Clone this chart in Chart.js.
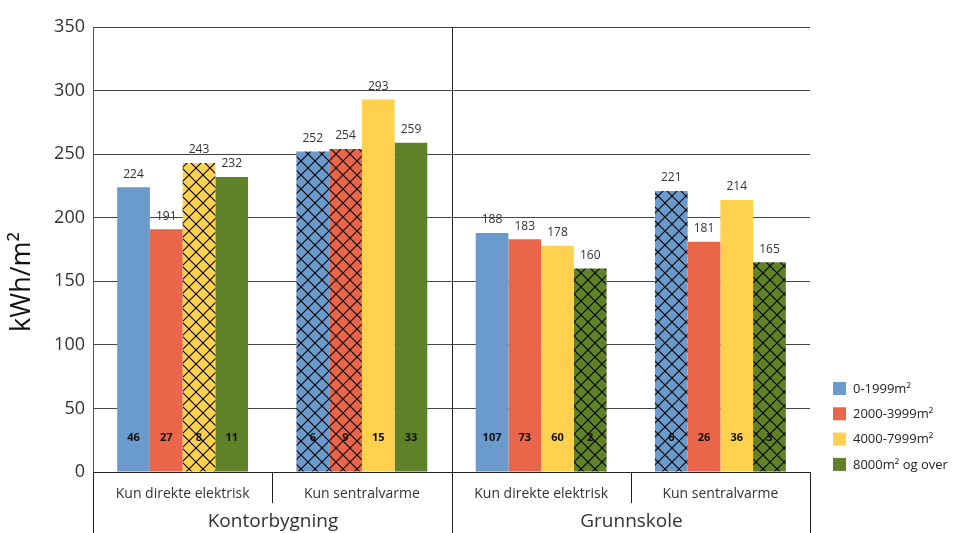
<!DOCTYPE html>
<html>
<head>
<meta charset="utf-8">
<script src="https://cdn.jsdelivr.net/npm/chart.js@4.4.1/dist/chart.umd.min.js"></script>
<style>
  html, body { margin: 0; padding: 0; background: #ffffff; }
  #wrap { width: 953px; height: 533px; position: relative; }
</style>
</head>
<body>
<div id="wrap"><canvas id="chart" width="953" height="533"></canvas></div>
<script>
// Building types and heating systems (two-level category axis)
const buildingTypes = ['Kontorbygning', 'Grunnskole'];
const heatingTypes = ['Kun direkte elektrisk', 'Kun sentralvarme'];
const categories = ['Kun direkte elektrisk', 'Kun sentralvarme', 'Kun direkte elektrisk', 'Kun sentralvarme'];

// Size classes
const seriesNames = ['0-1999m²', '2000-3999m²', '4000-7999m²', '8000m² og over'];

// Specific energy use, kWh/m2
const energy0 = [224, 252, 188, 221];
const energy2000 = [191, 254, 183, 181];
const energy4000 = [243, 293, 178, 214];
const energy8000 = [232, 259, 160, 165];

// Number of buildings behind each bar
const count0 = [46, 6, 107, 6];
const count2000 = [27, 9, 73, 26];
const count4000 = [8, 15, 60, 36];
const count8000 = [11, 33, 2, 3];

const yTicks = [0, 50, 100, 150, 200, 250, 300, 350];
const yTitle = 'kWh/m²';

const colors = ['#6b9bcc', '#e9664a', '#ffd14f', '#5f8229'];
const FONT = "'Open Sans', 'DejaVu Sans', sans-serif";

// Cross-hatch fill for bars based on few buildings
function hatch(color) {
  const s = 14;
  const c = document.createElement('canvas');
  c.width = s; c.height = s;
  const g = c.getContext('2d');
  g.fillStyle = color;
  g.fillRect(0, 0, s, s);
  g.strokeStyle = '#000';
  g.lineWidth = 1.1;
  g.beginPath();
  g.moveTo(0, 0); g.lineTo(s, s);
  g.moveTo(s, 0); g.lineTo(0, s);
  g.stroke();
  return g.createPattern(c, 'repeat');
}

function fills(color, counts) {
  return counts.map(n => n < 10 ? hatch(color) : color);
}

const energy = [energy0, energy2000, energy4000, energy8000];
const counts = [count0, count2000, count4000, count8000];

const datasets = seriesNames.map((name, i) => ({
  label: name,
  data: energy[i],
  counts: counts[i],
  baseColor: colors[i],
  backgroundColor: fills(colors[i], counts[i]),
  borderWidth: 0,
  categoryPercentage: 0.73,
  barPercentage: 1.0
}));

// Value labels above bars, building counts at bar foot
const barLabels = {
  id: 'barLabels',
  afterDatasetsDraw(chart) {
    const ctx = chart.ctx;
    const yScale = chart.scales.y;
    ctx.save();
    ctx.textAlign = 'center';
    chart.data.datasets.forEach((ds, di) => {
      const meta = chart.getDatasetMeta(di);
      meta.data.forEach((bar, i) => {
        ctx.fillStyle = '#333333';
        ctx.font = '12px ' + FONT;
        ctx.textBaseline = 'bottom';
        ctx.fillText(String(ds.data[i]), bar.x, bar.y - 7);
        ctx.fillStyle = '#111111';
        ctx.font = 'bold 11px ' + FONT;
        ctx.textBaseline = 'middle';
        ctx.fillText(String(ds.counts[i]), bar.x, yScale.getPixelForValue(0) - 34);
      });
    });
    ctx.restore();
  }
};

// Two-level category labels, separators, axis title and legend
const frame = {
  id: 'frame',
  afterDraw(chart) {
    const ctx = chart.ctx;
    const a = chart.chartArea;
    const x = chart.scales.x;
    const H = chart.height;
    ctx.save();
    ctx.strokeStyle = '#222222';
    ctx.lineWidth = 1;

    // boundaries between categories
    const edges = [];
    for (let i = 0; i <= categories.length; i++) {
      const px = i === 0 ? a.left : (i === categories.length ? a.right : (x.getPixelForValue(i - 1) + x.getPixelForValue(i)) / 2);
      edges.push(Math.round(px) + 0.5);
    }
    ctx.beginPath();
    // long separators between building types
    [0, 2, 4].forEach(k => {
      const top = k === 2 ? a.top : a.bottom;
      ctx.moveTo(edges[k], top);
      ctx.lineTo(edges[k], H);
    });
    // short separators between heating systems
    [1, 3].forEach(k => {
      ctx.moveTo(edges[k], a.bottom);
      ctx.lineTo(edges[k], a.bottom + 31);
    });
    ctx.stroke();

    ctx.fillStyle = '#333333';
    ctx.textAlign = 'center';
    ctx.textBaseline = 'middle';
    ctx.font = '14px ' + FONT;
    categories.forEach((c, i) => {
      ctx.fillText(c, x.getPixelForValue(i), a.bottom + 22);
    });
    ctx.font = '19px ' + FONT;
    buildingTypes.forEach((b, i) => {
      ctx.fillText(b, (edges[i * 2] + edges[i * 2 + 2]) / 2, a.bottom + 50);
    });

    // y axis title
    ctx.save();
    ctx.translate(22, 282);
    ctx.rotate(-Math.PI / 2);
    ctx.fillStyle = '#111111';
    ctx.font = '27px ' + FONT;
    ctx.fillText(yTitle, 0, 0);
    ctx.restore();

    // legend
    ctx.textAlign = 'left';
    ctx.font = '13px ' + FONT;
    chart.data.datasets.forEach((ds, i) => {
      const ly = 388 + i * 25.3;
      ctx.fillStyle = ds.baseColor;
      ctx.fillRect(833, ly - 6, 13, 13);
      ctx.fillStyle = '#222222';
      ctx.fillText(ds.label, 853, ly + 1);
    });
    ctx.restore();
  }
};

new Chart(document.getElementById('chart'), {
  type: 'bar',
  data: { labels: categories, datasets },
  options: {
    responsive: false,
    animation: false,
    layout: { padding: { top: 27, right: 143, bottom: 0, left: 0 } },
    plugins: {
      legend: { display: false },
      tooltip: { enabled: false }
    },
    scales: {
      x: {
        grid: { display: false, drawTicks: false },
        border: { display: true, color: '#222222', width: 1 },
        ticks: { display: false },
        afterFit(scale) { scale.height = 61; }
      },
      y: {
        min: 0,
        max: 350,
        afterBuildTicks(scale) { scale.ticks = yTicks.map(v => ({ value: v })); },
        grid: { color: '#444444', lineWidth: 1, drawTicks: false },
        border: { display: true, color: '#555555', width: 1 },
        ticks: {
          color: '#333333',
          font: { family: FONT, size: 18 },
          padding: 8
        },
        afterFit(scale) { scale.width = 93; }
      }
    }
  },
  plugins: [barLabels, frame]
});
</script>
</body>
</html>
